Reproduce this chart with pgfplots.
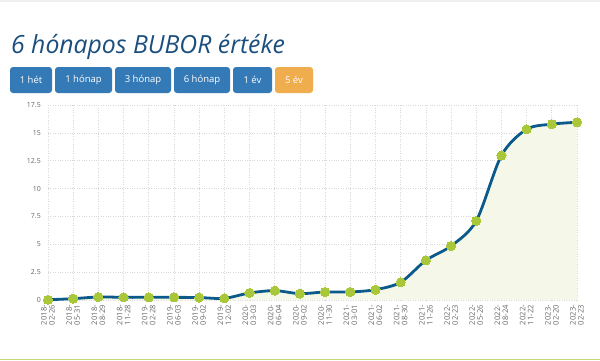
\documentclass[border=0pt]{standalone}
\usepackage{fontspec}
\setmainfont{Open Sans}
\usepackage{pgfplots}
\pgfplotsset{compat=1.18}
\definecolor{linec}{HTML}{0B5A8A}
\definecolor{markc}{HTML}{A8C83A}
\definecolor{fillc}{HTML}{F5F8E8}
\definecolor{btn}{HTML}{337AB7}
\definecolor{btno}{HTML}{F0AD4E}
\definecolor{titlec}{HTML}{1A4F7E}
\definecolor{tickc}{HTML}{666666}
\definecolor{gridc}{HTML}{D8D8D8}
\begin{document}
\begin{tikzpicture}
\begin{scope}[x=1pt,y=1pt]
\useasboundingbox (0,0) rectangle (600,360);
\fill[white] (0,0) rectangle (600,360);
\fill[gray!12] (0,358.5) rectangle (600,360);
\fill[markc!70] (0,0) rectangle (600,1.5);
% title
\node[anchor=base west, inner sep=0, text=titlec, font=\fontsize{25}{25}\selectfont\itshape, xscale=0.99] at (11,307) {6 hónapos BUBOR értéke};
% buttons
\foreach \a/\b/\t/\c in {10/52/1 hét/btn, 55/112/1 hónap/btn, 115/171/3 hónap/btn, 174/230/6 hónap/btn, 233/272/1 év/btn, 275/313/5 év/btno}{
  \fill[\c, rounded corners=3] (\a,267) rectangle (\b,293);
  \node[text=white, font=\fontsize{9.5}{9.5}\selectfont, inner sep=0] at ({(\a+\b)/2},280) {\t};
}
\end{scope}
\begin{axis}[
  at={(48pt,60pt)}, anchor=south west,
  scale only axis, width=529pt, height=195pt,
  xmin=0, xmax=21, ymin=0, ymax=17.5,
  axis line style={draw=none},
  major tick length=0pt,
  xtick={0,...,21},
  xticklabels={{2018-\\02-26},{2018-\\05-31},{2018-\\08-29},{2018-\\11-28},{2019-\\02-28},{2019-\\06-03},{2019-\\09-02},{2019-\\12-02},{2020-\\03-03},{2020-\\06-04},{2020-\\09-02},{2020-\\11-30},{2021-\\03-01},{2021-\\06-02},{2021-\\08-30},{2021-\\11-26},{2022-\\02-23},{2022-\\05-26},{2022-\\08-24},{2022-\\11-22},{2023-\\02-20},{2023-\\02-23}},
  ytick={0,2.5,5,7.5,10,12.5,15,17.5},
  yticklabels={0,2.5,5,7.5,10,12.5,15,17.5},
  x tick label style={rotate=90, anchor=east, align=center, font=\fontsize{7.6}{8}\selectfont, text=tickc, inner sep=1pt},
  y tick label style={font=\fontsize{7}{7}\selectfont, text=tickc, inner sep=1pt},
  yticklabel shift=6pt,
  xticklabel shift=4pt,
  /pgf/number format/assume math mode=true,
  grid=major,
  major grid style={gridc, dotted, line width=0.7pt},
  clip=false,
]
\addplot[fill=fillc, draw=none, smooth, tension=0.5] coordinates {
(0,0.02)(1,0.12)(2,0.27)(3,0.24)(4,0.24)(5,0.24)(6,0.22)(7,0.15)(8,0.63)(9,0.84)(10,0.57)(11,0.72)(12,0.72)(13,0.93)(14,1.59)(15,3.56)(16,4.85)(17,7.1)(18,12.97)(19,15.32)(20,15.78)(21,15.95)} \closedcycle;
\addplot[linec, line width=2.8pt, smooth, tension=0.5, mark=*, mark size=4.6pt, mark options={fill=markc, draw=markc, line width=0pt}] coordinates {
(0,0.02)(1,0.12)(2,0.27)(3,0.24)(4,0.24)(5,0.24)(6,0.22)(7,0.15)(8,0.63)(9,0.84)(10,0.57)(11,0.72)(12,0.72)(13,0.93)(14,1.59)(15,3.56)(16,4.85)(17,7.1)(18,12.97)(19,15.32)(20,15.78)(21,15.95)};
\end{axis}
\end{tikzpicture}
\end{document}
